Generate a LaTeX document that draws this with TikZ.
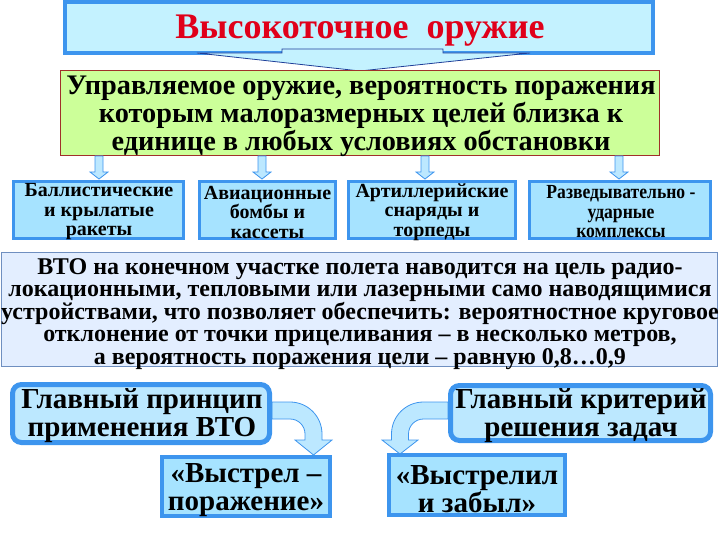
\documentclass[tikz,border=0pt]{standalone}
\usepackage{fontspec}
\setmainfont{Liberation Serif}
\newfontfamily\condfont{Liberation Serif}[FakeStretch=0.88]
\definecolor{topfill}{HTML}{C4F2FF}
\definecolor{bord}{HTML}{3D95EE}
\definecolor{titlered}{HTML}{E0001A}
\definecolor{greenfill}{HTML}{CCFF99}
\definecolor{greenbord}{HTML}{A0302A}
\definecolor{rowfill}{HTML}{A6E3FF}
\definecolor{bigfill}{HTML}{E3EEFF}
\definecolor{bigbord}{HTML}{6F8FC0}
\definecolor{arrfill}{HTML}{BCE8FF}
\definecolor{darkblue}{HTML}{1F3F99}
\tikzset{
  topbox/.style={draw=bord, line width=4pt, fill=topfill, inner sep=0pt},
  greenbox/.style={draw=greenbord, line width=1pt, fill=greenfill, inner sep=0pt},
  greentext/.style={align=center, inner sep=0pt, font=\fontsize{28.3}{28}\selectfont\bfseries},
  rowbox/.style={draw=bord, line width=3pt, fill=rowfill, inner sep=0pt, minimum height=57pt},
  rowtext/.style={align=center, inner sep=0pt, font=\fontsize{20}{19.5}\selectfont\bfseries},
  bigbox/.style={draw=bigbord, line width=1.5pt, fill=bigfill, inner sep=0pt},
  bigtext/.style={align=center, inner sep=0pt, font=\fontsize{24}{22.5}\selectfont\bfseries},
  roundbox/.style={draw=bord, line width=5pt, fill=arrfill, rounded corners=9pt, inner sep=0pt},
  sqbox/.style={draw=bord, line width=4pt, fill=rowfill, inner sep=0pt},
  bottext/.style={align=center, inner sep=0pt, font=\fontsize{29}{28}\selectfont\bfseries},
  blockarrow/.style={draw=bord, line width=0.8pt, fill=arrfill},
}
\begin{document}
\begin{tikzpicture}[x=1pt, y=-1pt]
\useasboundingbox (0,0) rectangle (720,540);
% title
\node[topbox, minimum width=588pt, minimum height=51pt] (title) at (359,27.5) {};
\node[text=titlered, font=\fontsize{36}{36}\selectfont\bfseries] (titletext) at (360,31) {Высокоточное\ \ оружие};
\draw[fill=topfill, draw=darkblue, line width=0.8pt]
  (282,49) -- (443,49) -- (443,53) -- (530,53) -- (360,71) -- (197,53) -- (282,53) -- cycle;
% green
\node[greenbox, minimum width=599pt, minimum height=85pt] (def) at (360,113) {};
\node[greentext] (deft) at (361,116.5)
  {Управляемое оружие, вероятность поражения\\ которым малоразмерных целей близка к\\ единице в любых условиях обстановки};
% small arrows
\foreach \ax in {99,262,425,619}{
  \draw[blockarrow] (\ax-4,156) -- (\ax+4,156) -- (\ax+4,172) -- (\ax+9,172) -- (\ax,179)
     -- (\ax-9,172) -- (\ax-4,172) -- cycle;
}
% row boxes
\node[rowbox, minimum width=170pt] (r1) at (98.5,210) {};
\node[rowbox, minimum width=136pt] (r2) at (267.5,210) {};
\node[rowbox, minimum width=167pt] (r3) at (432,210) {};
\node[rowbox, minimum width=181pt] (r4) at (620,210) {};
\node[rowtext] (r1t) at (99,212) {Баллистические\\ и крылатые\\ ракеты};
\node[rowtext] (r2t) at (267.5,212) {Авиационные\\ бомбы и\\ кассеты};
\node[rowtext] (r3t) at (432,212) {Артиллерийские\\ снаряды и\\ торпеды};
\node[rowtext, font=\fontsize{20}{19.5}\selectfont\condfont\bfseries] (r4t) at (621,212) {Разведывательно -\\ ударные\\ комплексы};
% big box
\node[bigbox, minimum width=716pt, minimum height=114pt] (vto) at (359.5,309.5) {};
\node[bigtext] (vtot) at (360,314)
  {ВТО на конечном участке полета наводится на цель радио-\\
   локационными, тепловыми или лазерными само наводящимися\\
   устройствами, что позволяет обеспечить: вероятностное круговое\\
   отклонение от точки прицеливания -- в несколько метров,\\
   а вероятность поражения цели -- равную 0,8…0,9};
% curved arrows
\draw[blockarrow] (272,402) -- (290,402) .. controls (307.7,402) and (322,416.3) .. (322,434)
  -- (322,440) -- (332,440) -- (313.5,455) -- (295,440) -- (305,440) -- (305,434)
  .. controls (305,425.7) and (298.3,419) .. (290,419) -- (272,419) -- cycle;
\draw[blockarrow] (448,402) -- (423.5,402) .. controls (405.8,402) and (391.5,416.3) .. (391.5,434)
  -- (391.5,440) -- (382,440) -- (400,454) -- (418,440) -- (408.5,440) -- (408.5,434)
  .. controls (408.5,425.7) and (415.2,419) .. (423.5,419) -- (448,419) -- cycle;
% bottom boxes
\node[roundbox, minimum width=257pt, minimum height=58pt] (princ) at (141,413.5) {};
\node[roundbox, minimum width=260pt, minimum height=55pt] (crit) at (580.5,413) {};
\node[sqbox, minimum width=168pt, minimum height=59pt] (shot) at (246,486.5) {};
\node[sqbox, minimum width=176pt, minimum height=60pt] (forget) at (477,485) {};
\node[bottext] (princt) at (142,416) {Главный принцип\\ применения ВТО};
\node[bottext] (critt) at (581,416) {Главный критерий\\ решения задач};
\node[bottext] (shott) at (246,490) {«Выстрел --\\ поражение»};
\node[bottext] (forgett) at (477,489) {«Выстрелил\\ и забыл»};
\end{tikzpicture}
\end{document}
